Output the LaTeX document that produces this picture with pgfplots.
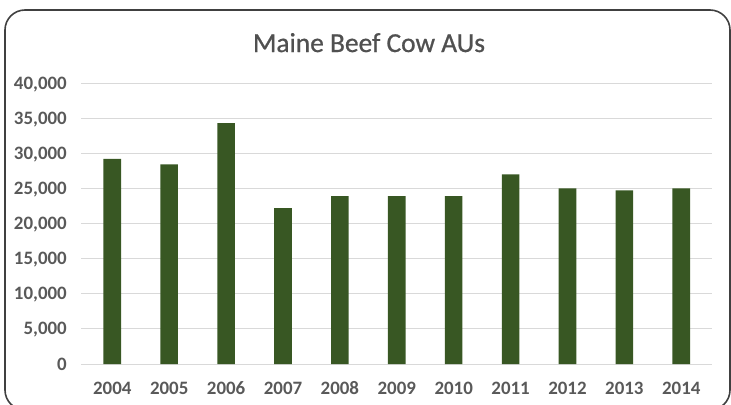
\documentclass[border=0pt]{standalone}
\usepackage{fontspec}
\setmainfont{Carlito}
\newfontface\titlefont{Carlito}[FakeBold=0.8]
\usepackage{pgfplots}
\pgfplotsset{compat=1.18}
\definecolor{barGreen}{RGB}{56,87,35}
\definecolor{labelGray}{RGB}{89,89,89}
\definecolor{titleGray}{RGB}{80,80,80}
\definecolor{gridGray}{RGB}{217,217,217}
\definecolor{frameGray}{RGB}{64,64,64}
\begin{document}
\begin{tikzpicture}[x=1bp,y=1bp]
  \useasboundingbox (0,0) rectangle (731,404);
  % chart frame
  \draw[frameGray, line width=1.6bp, rounded corners=20bp] (5,-6) rectangle (730,394);
  % title
  \node[anchor=base, text=titleGray, inner sep=0pt, font=\fontsize{27.5}{31}\titlefont] at (369,352) {Maine Beef Cow AUs};
  \begin{axis}[
    at={(81bp,40bp)}, anchor=south west,
    scale only axis, width=631bp, height=281bp,
    xmin=-0.55, xmax=10.54, ymin=0, ymax=40000,
    axis line style={draw=none},
    major tick length=0pt,
    ymajorgrids, grid style={gridGray, line width=1bp},
    ytick={0,5000,...,40000},
    scaled y ticks=false,
    /pgf/number format/.cd, fixed, precision=0, 1000 sep={,}, assume math mode=true,
    /pgfplots/.cd,
    yticklabel style={anchor=base east, inner sep=0pt, xshift=-14bp, yshift=-6bp,
      text=labelGray, font=\fontsize{19}{22}\selectfont\bfseries},
    xtick=data,
    xticklabels={2004,2005,2006,2007,2008,2009,2010,2011,2012,2013,2014},
    xticklabel style={anchor=base, inner sep=0pt, yshift=-30bp,
      text=labelGray, font=\fontsize{19}{22}\selectfont\bfseries},
  ]
    \addplot[ybar, bar width=17.6bp, fill=barGreen, draw=none] coordinates {
      (0,29200) (1,28400) (2,34300) (3,22200) (4,23900) (5,23900)
      (6,23900) (7,27000) (8,25000) (9,24700) (10,25000)
    };
  \end{axis}
\end{tikzpicture}
\end{document}
